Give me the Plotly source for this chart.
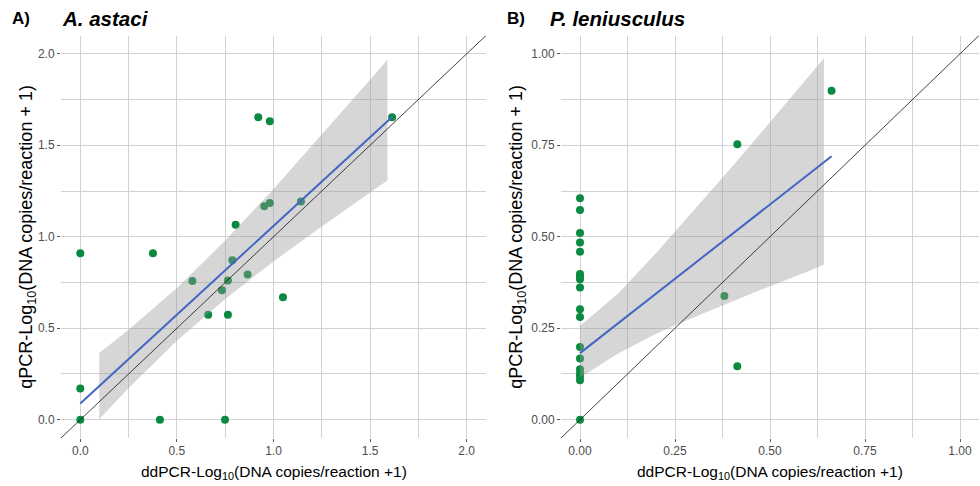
import plotly.graph_objects as go

# ---------------- Panel A: A. astaci ----------------
a_ddpcr = [0.921, 0.981, 1.614, 0.952, 0.981, 1.142, 0.804, 0.0, 0.376, 0.787, 0.580,
           0.866, 0.764, 0.733, 1.049, 0.662, 0.764, 0.0, 0.0, 0.412, 0.749]
a_qpcr = [1.653, 1.631, 1.653, 1.167, 1.184, 1.192, 1.065, 0.910, 0.910, 0.871, 0.758,
          0.794, 0.761, 0.707, 0.670, 0.573, 0.573, 0.170, 0.0, 0.0, 0.0]
a_fit_x = [0.0, 1.614]
a_fit_y = [0.089, 1.655]
a_band_x = [0.098, 0.25, 0.5, 0.75, 1.0, 1.25, 1.5, 1.59]
a_band_lo = [0.003, 0.173, 0.432, 0.660, 0.865, 1.056, 1.242, 1.308]
a_band_hi = [0.365, 0.492, 0.720, 0.979, 1.261, 1.557, 1.858, 1.968]
a_range = [-0.1, 2.1]
a_ticks = [0.0, 0.5, 1.0, 1.5, 2.0]
a_tick_text = ["0.0", "0.5", "1.0", "1.5", "2.0"]

# ---------------- Panel B: P. leniusculus ----------------
b_ddpcr = [0.0] * 18 + [0.380, 0.414, 0.414, 0.662]
b_qpcr = [0.605, 0.573, 0.510, 0.484, 0.459, 0.398, 0.390, 0.384, 0.361, 0.302, 0.281,
          0.199, 0.167, 0.138, 0.127, 0.119, 0.108, 0.0,
          0.338, 0.146, 0.753, 0.899]
b_fit_x = [0.0, 0.662]
b_fit_y = [0.182, 0.720]
b_band_x = [0.0, 0.1, 0.2, 0.3, 0.4, 0.5, 0.6, 0.642]
b_band_lo = [0.115, 0.181, 0.235, 0.280, 0.323, 0.365, 0.405, 0.424]
b_band_hi = [0.256, 0.345, 0.455, 0.572, 0.691, 0.813, 0.935, 0.988]
b_range = [-0.05, 1.05]
b_ticks = [0.0, 0.25, 0.5, 0.75, 1.0]
b_tick_text = ["0.00", "0.25", "0.50", "0.75", "1.00"]

FONT = "Liberation Sans, Arial, sans-serif"
POINT = "#0a8a40"
LINE = "#4266c2"
BAND = "rgba(153,153,153,0.4)"
GRID = "#d2d2d2"

fig = go.Figure()


def add_panel(xs, ys, fx, fy, bx, blo, bhi, rng, xa, ya):
    fig.add_trace(go.Scatter(x=xs, y=ys, mode="markers", xaxis=xa, yaxis=ya,
                             marker=dict(color=POINT, size=8), showlegend=False))
    fig.add_trace(go.Scatter(x=bx + bx[::-1], y=bhi + blo[::-1], mode="lines",
                             fill="toself", fillcolor=BAND, line=dict(width=0),
                             xaxis=xa, yaxis=ya, showlegend=False))
    fig.add_trace(go.Scatter(x=fx, y=fy, mode="lines", line=dict(color=LINE, width=2),
                             xaxis=xa, yaxis=ya, showlegend=False))
    fig.add_trace(go.Scatter(x=rng, y=rng, mode="lines", line=dict(color="#111111", width=0.8),
                             xaxis=xa, yaxis=ya, showlegend=False))


add_panel(a_ddpcr, a_qpcr, a_fit_x, a_fit_y, a_band_x, a_band_lo, a_band_hi, a_range, "x", "y")
add_panel(b_ddpcr, b_qpcr, b_fit_x, b_fit_y, b_band_x, b_band_lo, b_band_hi, b_range, "x2", "y2")

W, H = 980, 486
ydom = [(H - 438) / H, (H - 35.5) / H]


def axis(dom, rng, ticks, text, minor_dt, anchor):
    return dict(domain=dom, range=rng, tickmode="array", tickvals=ticks, ticktext=text,
                showgrid=True, gridcolor=GRID, gridwidth=1,
                minor=dict(dtick=minor_dt, tick0=0, showgrid=True, gridcolor=GRID, gridwidth=1),
                ticks="outside", ticklen=3, tickcolor="#555555", tickwidth=1,
                tickfont=dict(family=FONT, size=12, color="#4d4d4d"),
                zeroline=False, showline=False, anchor=anchor, fixedrange=True)


fig.update_layout(
    width=W, height=H, margin=dict(l=0, r=0, t=0, b=0),
    paper_bgcolor="white", plot_bgcolor="white",
    xaxis=axis([61 / W, 486 / W], a_range, a_ticks, a_tick_text, 0.25, "y"),
    yaxis=axis(ydom, a_range, a_ticks, a_tick_text, 0.25, "x"),
    xaxis2=axis([561 / W, 979 / W], b_range, b_ticks, b_tick_text, 0.125, "y2"),
    yaxis2=axis(ydom, b_range, b_ticks, b_tick_text, 0.125, "x2"),
)
fig.update_xaxes(ticklabelstandoff=-1)

xtitle = "ddPCR-Log<sub>10</sub>(DNA copies/reaction +1)"
ytitle = "qPCR-Log<sub>10</sub>(DNA copies/reaction + 1)"
ann = []
for cx, ytx in [((61 + 486) / 2, 28), ((561 + 979) / 2, 518)]:
    ann.append(dict(text=xtitle, x=cx / W, y=(H - 472) / H, xref="paper", yref="paper",
                    xanchor="center", yanchor="middle", showarrow=False,
                    font=dict(family=FONT, size=15.5, color="black")))
    ann.append(dict(text=ytitle, x=ytx / W, y=(H - (35.5 + 438) / 2) / H, xref="paper",
                    yref="paper", xanchor="center", yanchor="middle", showarrow=False,
                    textangle=-90, font=dict(family=FONT, size=18, color="black")))
for lx, label, tx, title in [(10, "A)", 60, "A. astaci"), (505, "B)", 548, "P. leniusculus")]:
    ann.append(dict(text="<b>" + label + "</b>", x=lx / W, y=(H - 18) / H, xref="paper",
                    yref="paper", xanchor="left", yanchor="middle", showarrow=False,
                    font=dict(family=FONT, size=17, color="black")))
    ann.append(dict(text="<b><i>" + title + "</i></b>", x=tx / W, y=(H - 18) / H,
                    xref="paper", yref="paper", xanchor="left", yanchor="middle",
                    showarrow=False, font=dict(family=FONT, size=20.5, color="black")))
fig.update_layout(annotations=ann)

fig.write_html("out.html", config={"displayModeBar": False},
               post_script="document.body.style.margin='0px';document.body.style.padding='0px';")
